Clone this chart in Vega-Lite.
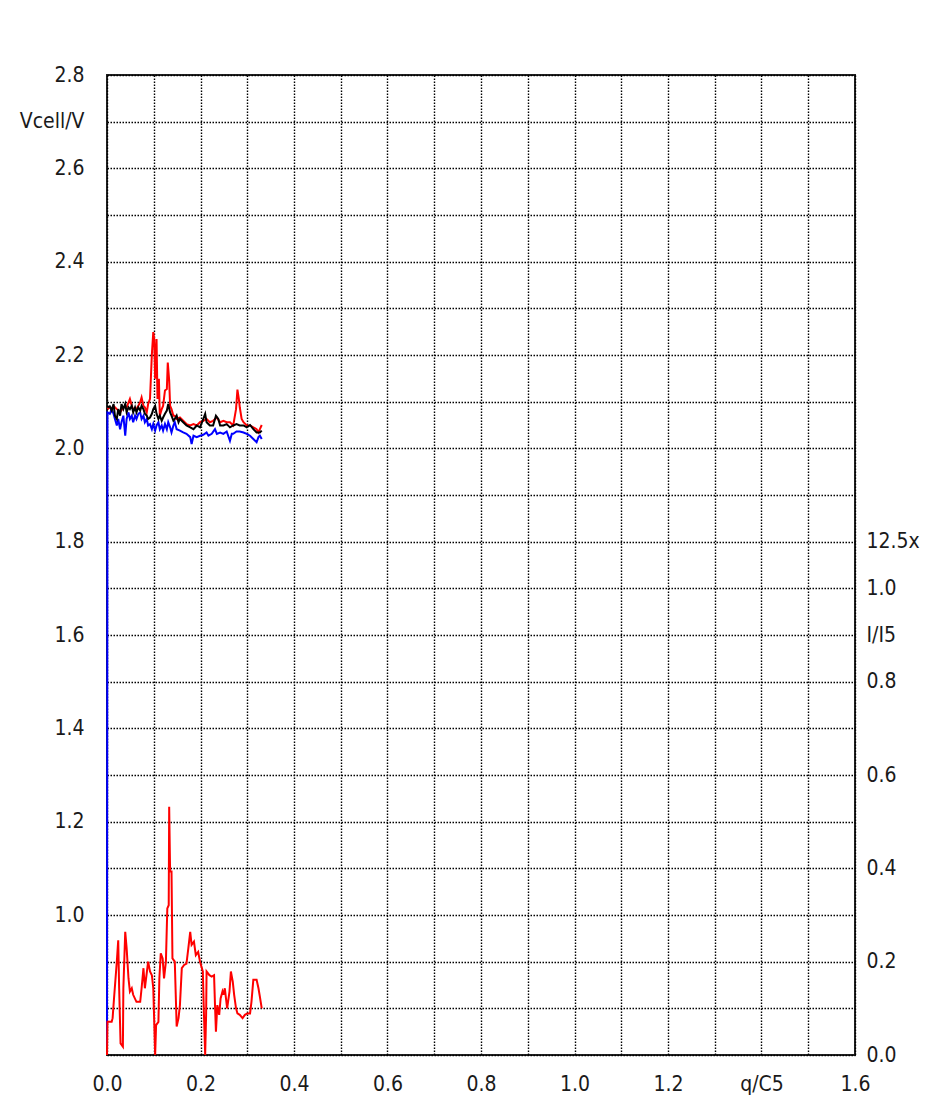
{
  "$schema": "https://vega.github.io/schema/vega-lite/v6.json",
  "autosize": {"type": "none"},
  "padding": {"left": 107, "top": 75, "right": 73, "bottom": 65},
  "width": 748,
  "height": 980,
  "background": "white",
  "config": {
    "axis": {"labelFont": "DejaVu Sans Condensed", "labelFontSize": 21, "labelColor": "#1a1a1a", "ticks": false, "domain": false, "gridColor": "#000000", "gridDash": [1.5, 1.5], "gridWidth": 1.4, "gridOpacity": 1, "labelOverlap": false, "labelFlush": false, "title": null},
    "view": {"stroke": "#222222", "strokeWidth": 2}
  },
  "datasets": {
    "volt": [
      {"s":"blue","q":0.000,"v":0.72},{"s":"blue","q":0.001,"v":2.077},{"s":"blue","q":0.006,"v":2.074},{"s":"blue","q":0.010,"v":2.084},{"s":"blue","q":0.014,"v":2.074},{"s":"blue","q":0.017,"v":2.063},{"s":"blue","q":0.021,"v":2.049},{"s":"blue","q":0.024,"v":2.063},{"s":"blue","q":0.028,"v":2.041},{"s":"blue","q":0.031,"v":2.056},{"s":"blue","q":0.035,"v":2.070},{"s":"blue","q":0.039,"v":2.027},{"s":"blue","q":0.042,"v":2.063},{"s":"blue","q":0.046,"v":2.077},{"s":"blue","q":0.049,"v":2.063},{"s":"blue","q":0.053,"v":2.070},{"s":"blue","q":0.056,"v":2.056},{"s":"blue","q":0.060,"v":2.070},{"s":"blue","q":0.063,"v":2.063},{"s":"blue","q":0.067,"v":2.074},{"s":"blue","q":0.071,"v":2.077},{"s":"blue","q":0.074,"v":2.063},{"s":"blue","q":0.078,"v":2.070},{"s":"blue","q":0.081,"v":2.056},{"s":"blue","q":0.085,"v":2.063},{"s":"blue","q":0.088,"v":2.049},{"s":"blue","q":0.092,"v":2.052},{"s":"blue","q":0.096,"v":2.041},{"s":"blue","q":0.099,"v":2.052},{"s":"blue","q":0.103,"v":2.038},{"s":"blue","q":0.106,"v":2.049},{"s":"blue","q":0.110,"v":2.056},{"s":"blue","q":0.113,"v":2.041},{"s":"blue","q":0.117,"v":2.049},{"s":"blue","q":0.120,"v":2.038},{"s":"blue","q":0.124,"v":2.052},{"s":"blue","q":0.128,"v":2.041},{"s":"blue","q":0.131,"v":2.056},{"s":"blue","q":0.135,"v":2.045},{"s":"blue","q":0.138,"v":2.034},{"s":"blue","q":0.142,"v":2.049},{"s":"blue","q":0.145,"v":2.056},{"s":"blue","q":0.149,"v":2.041},{"s":"blue","q":0.156,"v":2.038},{"s":"blue","q":0.163,"v":2.034},{"s":"blue","q":0.170,"v":2.031},{"s":"blue","q":0.178,"v":2.024},{"s":"blue","q":0.181,"v":2.009},{"s":"blue","q":0.185,"v":2.027},{"s":"blue","q":0.192,"v":2.024},{"s":"blue","q":0.199,"v":2.027},{"s":"blue","q":0.206,"v":2.029},{"s":"blue","q":0.213,"v":2.034},{"s":"blue","q":0.217,"v":2.027},{"s":"blue","q":0.224,"v":2.031},{"s":"blue","q":0.231,"v":2.041},{"s":"blue","q":0.235,"v":2.031},{"s":"blue","q":0.242,"v":2.034},{"s":"blue","q":0.249,"v":2.031},{"s":"blue","q":0.256,"v":2.036},{"s":"blue","q":0.263,"v":2.016},{"s":"blue","q":0.267,"v":2.031},{"s":"blue","q":0.270,"v":2.031},{"s":"blue","q":0.277,"v":2.036},{"s":"blue","q":0.284,"v":2.036},{"s":"blue","q":0.292,"v":2.034},{"s":"blue","q":0.299,"v":2.031},{"s":"blue","q":0.306,"v":2.027},{"s":"blue","q":0.313,"v":2.020},{"s":"blue","q":0.320,"v":2.013},{"s":"blue","q":0.324,"v":2.024},{"s":"blue","q":0.327,"v":2.027},{"s":"blue","q":0.331,"v":2.020},
      {"s":"red","q":0.001,"v":2.084},{"s":"red","q":0.006,"v":2.088},{"s":"red","q":0.010,"v":2.084},{"s":"red","q":0.014,"v":2.091},{"s":"red","q":0.021,"v":2.084},{"s":"red","q":0.028,"v":2.077},{"s":"red","q":0.035,"v":2.088},{"s":"red","q":0.042,"v":2.088},{"s":"red","q":0.049,"v":2.106},{"s":"red","q":0.053,"v":2.091},{"s":"red","q":0.056,"v":2.084},{"s":"red","q":0.063,"v":2.084},{"s":"red","q":0.071,"v":2.099},{"s":"red","q":0.074,"v":2.109},{"s":"red","q":0.078,"v":2.091},{"s":"red","q":0.081,"v":2.088},{"s":"red","q":0.085,"v":2.077},{"s":"red","q":0.088,"v":2.095},{"s":"red","q":0.092,"v":2.106},{"s":"red","q":0.096,"v":2.202},{"s":"red","q":0.099,"v":2.249},{"s":"red","q":0.101,"v":2.234},{"s":"red","q":0.103,"v":2.149},{"s":"red","q":0.106,"v":2.234},{"s":"red","q":0.108,"v":2.106},{"s":"red","q":0.111,"v":2.149},{"s":"red","q":0.113,"v":2.070},{"s":"red","q":0.117,"v":2.084},{"s":"red","q":0.120,"v":2.091},{"s":"red","q":0.124,"v":2.124},{"s":"red","q":0.128,"v":2.127},{"s":"red","q":0.130,"v":2.184},{"s":"red","q":0.133,"v":2.145},{"s":"red","q":0.135,"v":2.091},{"s":"red","q":0.138,"v":2.084},{"s":"red","q":0.142,"v":2.070},{"s":"red","q":0.145,"v":2.070},{"s":"red","q":0.149,"v":2.063},{"s":"red","q":0.156,"v":2.066},{"s":"red","q":0.163,"v":2.059},{"s":"red","q":0.170,"v":2.052},{"s":"red","q":0.178,"v":2.049},{"s":"red","q":0.185,"v":2.052},{"s":"red","q":0.192,"v":2.049},{"s":"red","q":0.199,"v":2.056},{"s":"red","q":0.206,"v":2.059},{"s":"red","q":0.213,"v":2.063},{"s":"red","q":0.220,"v":2.056},{"s":"red","q":0.227,"v":2.059},{"s":"red","q":0.235,"v":2.066},{"s":"red","q":0.242,"v":2.056},{"s":"red","q":0.249,"v":2.059},{"s":"red","q":0.256,"v":2.056},{"s":"red","q":0.263,"v":2.056},{"s":"red","q":0.270,"v":2.049},{"s":"red","q":0.276,"v":2.084},{"s":"red","q":0.279,"v":2.126},{"s":"red","q":0.282,"v":2.106},{"s":"red","q":0.284,"v":2.088},{"s":"red","q":0.288,"v":2.063},{"s":"red","q":0.292,"v":2.056},{"s":"red","q":0.299,"v":2.049},{"s":"red","q":0.306,"v":2.049},{"s":"red","q":0.313,"v":2.045},{"s":"red","q":0.320,"v":2.041},{"s":"red","q":0.324,"v":2.034},{"s":"red","q":0.327,"v":2.041},{"s":"red","q":0.331,"v":2.050},
      {"s":"black","q":0.001,"v":2.088},{"s":"black","q":0.006,"v":2.090},{"s":"black","q":0.010,"v":2.081},{"s":"black","q":0.014,"v":2.095},{"s":"black","q":0.017,"v":2.070},{"s":"black","q":0.021,"v":2.063},{"s":"black","q":0.024,"v":2.084},{"s":"black","q":0.028,"v":2.070},{"s":"black","q":0.031,"v":2.095},{"s":"black","q":0.035,"v":2.084},{"s":"black","q":0.039,"v":2.095},{"s":"black","q":0.042,"v":2.077},{"s":"black","q":0.046,"v":2.088},{"s":"black","q":0.049,"v":2.084},{"s":"black","q":0.053,"v":2.091},{"s":"black","q":0.056,"v":2.077},{"s":"black","q":0.060,"v":2.088},{"s":"black","q":0.063,"v":2.077},{"s":"black","q":0.067,"v":2.088},{"s":"black","q":0.071,"v":2.081},{"s":"black","q":0.074,"v":2.091},{"s":"black","q":0.078,"v":2.084},{"s":"black","q":0.081,"v":2.074},{"s":"black","q":0.085,"v":2.070},{"s":"black","q":0.088,"v":2.063},{"s":"black","q":0.092,"v":2.066},{"s":"black","q":0.096,"v":2.074},{"s":"black","q":0.099,"v":2.084},{"s":"black","q":0.103,"v":2.091},{"s":"black","q":0.106,"v":2.074},{"s":"black","q":0.110,"v":2.063},{"s":"black","q":0.113,"v":2.070},{"s":"black","q":0.117,"v":2.059},{"s":"black","q":0.120,"v":2.066},{"s":"black","q":0.124,"v":2.074},{"s":"black","q":0.128,"v":2.081},{"s":"black","q":0.131,"v":2.095},{"s":"black","q":0.135,"v":2.077},{"s":"black","q":0.138,"v":2.070},{"s":"black","q":0.142,"v":2.059},{"s":"black","q":0.145,"v":2.063},{"s":"black","q":0.149,"v":2.070},{"s":"black","q":0.153,"v":2.056},{"s":"black","q":0.156,"v":2.063},{"s":"black","q":0.163,"v":2.056},{"s":"black","q":0.170,"v":2.049},{"s":"black","q":0.178,"v":2.045},{"s":"black","q":0.185,"v":2.041},{"s":"black","q":0.192,"v":2.049},{"s":"black","q":0.199,"v":2.045},{"s":"black","q":0.206,"v":2.063},{"s":"black","q":0.210,"v":2.074},{"s":"black","q":0.213,"v":2.056},{"s":"black","q":0.220,"v":2.049},{"s":"black","q":0.227,"v":2.049},{"s":"black","q":0.233,"v":2.070},{"s":"black","q":0.238,"v":2.063},{"s":"black","q":0.242,"v":2.049},{"s":"black","q":0.249,"v":2.049},{"s":"black","q":0.256,"v":2.052},{"s":"black","q":0.263,"v":2.045},{"s":"black","q":0.270,"v":2.049},{"s":"black","q":0.277,"v":2.052},{"s":"black","q":0.284,"v":2.049},{"s":"black","q":0.292,"v":2.049},{"s":"black","q":0.299,"v":2.045},{"s":"black","q":0.306,"v":2.050},{"s":"black","q":0.313,"v":2.041},{"s":"black","q":0.320,"v":2.034},{"s":"black","q":0.327,"v":2.034},{"s":"black","q":0.331,"v":2.038}
    ],
    "cur": [
      {"q":0.000,"i":0.000},{"q":0.001,"i":0.071},{"q":0.010,"i":0.071},{"q":0.012,"i":0.079},{"q":0.015,"i":0.121},{"q":0.021,"i":0.200},{"q":0.024,"i":0.246},{"q":0.026,"i":0.143},{"q":0.029,"i":0.025},{"q":0.034,"i":0.018},{"q":0.035,"i":0.143},{"q":0.039,"i":0.264},{"q":0.042,"i":0.229},{"q":0.046,"i":0.164},{"q":0.049,"i":0.136},{"q":0.053,"i":0.143},{"q":0.056,"i":0.129},{"q":0.063,"i":0.114},{"q":0.071,"i":0.114},{"q":0.074,"i":0.143},{"q":0.078,"i":0.186},{"q":0.081,"i":0.143},{"q":0.088,"i":0.200},{"q":0.092,"i":0.179},{"q":0.096,"i":0.171},{"q":0.099,"i":0.143},{"q":0.103,"i":0.000},{"q":0.105,"i":0.064},{"q":0.110,"i":0.071},{"q":0.112,"i":0.164},{"q":0.115,"i":0.218},{"q":0.119,"i":0.207},{"q":0.122,"i":0.164},{"q":0.126,"i":0.200},{"q":0.129,"i":0.314},{"q":0.132,"i":0.321},{"q":0.133,"i":0.532},{"q":0.135,"i":0.393},{"q":0.138,"i":0.393},{"q":0.140,"i":0.207},{"q":0.145,"i":0.200},{"q":0.149,"i":0.061},{"q":0.153,"i":0.079},{"q":0.156,"i":0.107},{"q":0.160,"i":0.186},{"q":0.165,"i":0.193},{"q":0.170,"i":0.196},{"q":0.174,"i":0.229},{"q":0.178,"i":0.264},{"q":0.181,"i":0.236},{"q":0.186,"i":0.243},{"q":0.190,"i":0.214},{"q":0.195,"i":0.221},{"q":0.199,"i":0.200},{"q":0.205,"i":0.179},{"q":0.207,"i":0.100},{"q":0.210,"i":0.000},{"q":0.212,"i":0.086},{"q":0.213,"i":0.179},{"q":0.219,"i":0.171},{"q":0.224,"i":0.168},{"q":0.229,"i":0.171},{"q":0.231,"i":0.107},{"q":0.233,"i":0.050},{"q":0.236,"i":0.107},{"q":0.240,"i":0.086},{"q":0.243,"i":0.121},{"q":0.247,"i":0.136},{"q":0.249,"i":0.129},{"q":0.252,"i":0.143},{"q":0.257,"i":0.100},{"q":0.262,"i":0.136},{"q":0.265,"i":0.179},{"q":0.269,"i":0.157},{"q":0.272,"i":0.129},{"q":0.276,"i":0.100},{"q":0.279,"i":0.089},{"q":0.284,"i":0.086},{"q":0.290,"i":0.079},{"q":0.295,"i":0.086},{"q":0.300,"i":0.089},{"q":0.306,"i":0.089},{"q":0.309,"i":0.114},{"q":0.313,"i":0.161},{"q":0.320,"i":0.161},{"q":0.324,"i":0.143},{"q":0.327,"i":0.125},{"q":0.331,"i":0.100}
    ]
  },
  "layer": [
    {
      "data": {"name": "volt"},
      "encoding": {
        "x": {"field": "q", "type": "quantitative", "scale": {"domain": [0, 1.6], "nice": false, "zero": false},
          "axis": {"orient": "bottom", "grid": true, "labelPadding": 18, "values": [0,0.1,0.2,0.3,0.4,0.5,0.6,0.7,0.8,0.9,1.0,1.1,1.2,1.3,1.4,1.5,1.6],
            "labelExpr": "abs(datum.value-1.4)<0.001 ? 'q/C5' : (round(datum.value*10)%2==1 ? '' : format(datum.value,'.1f'))"}},
        "y": {"field": "v", "type": "quantitative", "scale": {"domain": [0.7, 2.8], "nice": false, "zero": false},
          "axis": {"orient": "left", "grid": true, "labelPadding": 23, "values": [0.7,0.8,0.9,1.0,1.1,1.2,1.3,1.4,1.5,1.6,1.7,1.8,1.9,2.0,2.1,2.2,2.3,2.4,2.5,2.6,2.7,2.8],
            "labelExpr": "abs(datum.value-2.7)<0.001 ? 'Vcell/V' : ((datum.value<0.95 || round(datum.value*10)%2==1) ? '' : format(datum.value,'.1f'))"}}
      },
      "layer": [
        {"transform": [{"filter": "datum.s=='blue'"}], "mark": {"type": "line", "color": "#0000ff", "strokeWidth": 2}},
        {"transform": [{"filter": "datum.s=='red'"}], "mark": {"type": "line", "color": "#ff0000", "strokeWidth": 2}},
        {"transform": [{"filter": "datum.s=='black'"}], "mark": {"type": "line", "color": "#000000", "strokeWidth": 2}}
      ]
    },
    {
      "data": {"name": "cur"},
      "mark": {"type": "line", "color": "#ff0000", "strokeWidth": 2},
      "encoding": {
        "x": {"field": "q", "type": "quantitative", "scale": {"domain": [0, 1.6], "nice": false, "zero": false},
          "axis": {"orient": "bottom", "grid": true, "labelPadding": 18, "values": [0,0.1,0.2,0.3,0.4,0.5,0.6,0.7,0.8,0.9,1.0,1.1,1.2,1.3,1.4,1.5,1.6],
            "labelExpr": "abs(datum.value-1.4)<0.001 ? 'q/C5' : (round(datum.value*10)%2==1 ? '' : format(datum.value,'.1f'))"}},
        "y": {"field": "i", "type": "quantitative", "scale": {"domain": [0, 2.1], "nice": false, "zero": false},
          "axis": {"orient": "right", "grid": false, "labelPadding": 11, "values": [0,0.2,0.4,0.6,0.8,0.9,1.0,1.1],
            "labelExpr": "abs(datum.value-0.9)<0.001 ? 'I/I5' : (abs(datum.value-1.1)<0.001 ? '12.5x' : format(datum.value,'.1f'))"}}
      }
    }
  ],
  "resolve": {"scale": {"y": "independent"}}
}
